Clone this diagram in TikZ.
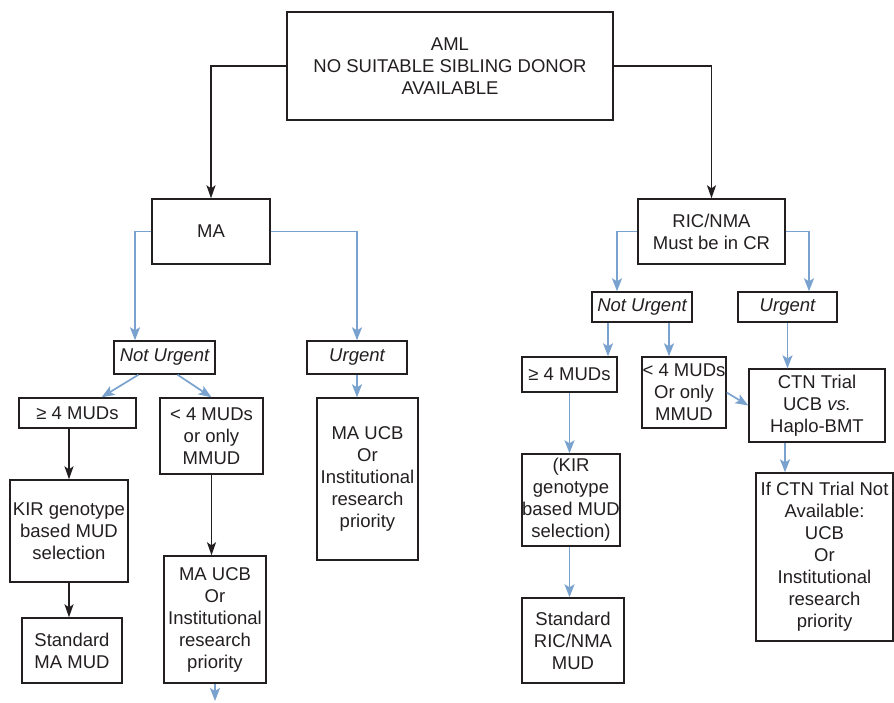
\documentclass[tikz,border=0pt]{standalone}
\usepackage{fontspec}
\setmainfont{Liberation Sans}
\usetikzlibrary{arrows.meta}
\definecolor{ink}{RGB}{35,31,32}
\definecolor{steel}{RGB}{122,162,206}
\tikzset{%
  box/.style   = {shape=rectangle, draw=ink, text=ink, line width=1.4pt,%
                  align=center, inner sep=0pt},%
  tag/.style   = {box, font=\fontsize{18.5}{22}\selectfont\itshape},%
  sz/.style 2 args = {minimum width=#1pt, minimum height=#2pt},%
  blk/.style   = {draw=ink, line width=1.5pt,%
                  -{Stealth[length=13pt,width=9pt,inset=3pt]}},%
  blu/.style   = {draw=steel, line width=1.7pt,%
                  -{Stealth[length=13pt,width=10pt,inset=3pt]}}%
}

\begin{document}
\begin{tikzpicture}[x=1pt,y=-1pt,
	every node/.style = {font=\fontsize{18.5}{22}\selectfont}]
	\useasboundingbox (0,0) rectangle (894,702);
	% top
	\node [box,sz={326}{108}] (aml) at (450,66) {AML\\NO SUITABLE SIBLING DONOR\\AVAILABLE};
	% left branch
	\node [box,sz={118}{65}] (ma) at (211,231.5) {MA};
	\node [tag,sz={101}{33}] (nul) at (164.5,357.5) {Not Urgent};
	\node [tag,sz={100}{33}] (ul) at (357,357.5) {Urgent};
	\node [box,sz={117}{30}] (gel) at (77.5,413) {≥ 4 MUDs};
	\node [box,sz={103}{76}] (ltl) at (211.5,436) {< 4 MUDs\\or only\\MMUD};
	\node [box,sz={101}{162}] (ucbl) at (367.5,479) {MA UCB\\Or\\Institutional\\research\\priority};
	\node [box,sz={118}{102}] (kirl) at (69,531) {KIR genotype\\based MUD\\selection};
	\node [box,sz={100}{65}] (stdl) at (72,650.5) {Standard\\MA MUD};
	\node [box,sz={102}{127}] (ucbm) at (215,619.5) {MA UCB\\Or\\Institutional\\research\\priority};
	\coordinate (more) at (215,701);
	% right branch
	\node [box,sz={147}{65}] (ric) at (711.5,231.5) {RIC/NMA\\Must be in CR};
	\node [tag,sz={100}{30}] (nur) at (642,307) {Not Urgent};
	\node [tag,sz={99}{30}] (ur) at (787.5,307) {Urgent};
	\node [box,sz={95}{35}] (ger) at (569.5,374.5) {≥ 4 MUDs};
	\node [box,sz={84}{71}] (ltr) at (684,392.5) {< 4 MUDs\\Or only\\MMUD};
	\node [box,sz={136}{73}] (ctn) at (817,405.5) {CTN Trial\\UCB \textit{vs.}\\Haplo-BMT};
	\node [box,sz={98}{92}] (kirr) at (571,500) {(KIR\\genotype\\based MUD\\selection)};
	\node [box,sz={102}{85}] (stdr) at (573,640.5) {Standard\\RIC/NMA\\MUD};
	\node [box,sz={137}{168}] (ifctn) at (824.5,557) {If CTN Trial Not\\Available:\\UCB\\Or\\Institutional\\research\\priority};

	\draw [blk] (aml.west) -| (ma.north);
	\draw [blk] (aml.east) -| (ric.north);
	\draw [blu] (ma.west) -| ([xshift=-29.5pt]nul.north);
	\draw [blu] (ma.east) -| (ul.north);
	\draw [blu] ([xshift=-26pt]nul.south) -- ([xshift=24pt]gel.north);
	\draw [blu] ([xshift=13pt]nul.south) -- (ltl.north);
	\draw [blu] (ul.south) -- (ul.south |- ucbl.north);
	\draw [blk] (gel.south -| kirl.north) -- (kirl.north);
	\draw [blk] (kirl.south) -- (kirl.south |- stdl.north);
	\draw [blk] (ltl.south) -- (ltl.south |- ucbm.north);
	\draw [blu] (ucbm.south) -- (more);

	\draw [blu] (ric.west) -| ([xshift=-25pt]nur.north);
	\draw [blu] (ric.east) -| ([xshift=21.5pt]ur.north);
	\draw [blu] ([xshift=-34pt]nur.south) -- ([xshift=-34pt]nur.south |- ger.north);
	\draw [blu] ([xshift=27pt]nur.south) -- ([xshift=27pt]nur.south |- ltr.north);
	\draw [blu] (ur.south) -- (ur.south |- ctn.north);
	\draw [blu] (ltr.east) -- (ctn.west);
	\draw [blu] (ger.south) -- (ger.south |- kirr.north);
	\draw [blu] (ger.south |- kirr.south) -- (ger.south |- stdr.north);
	\draw [blu] ([xshift=-32pt]ctn.south) -- ([xshift=-32pt]ctn.south |- ifctn.north);
\end{tikzpicture}
\end{document}
